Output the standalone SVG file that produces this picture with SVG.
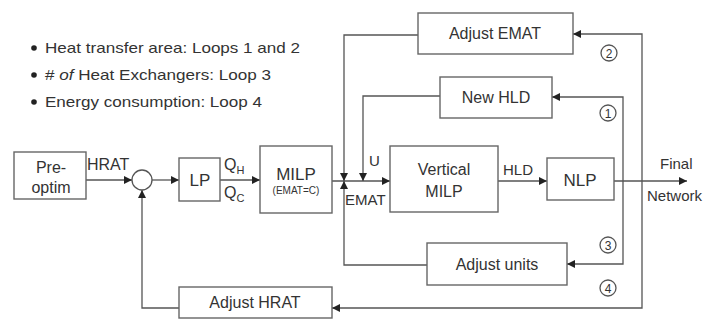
<svg xmlns="http://www.w3.org/2000/svg" width="707" height="320" viewBox="0 0 707 320">
<defs>
<style>
.box{fill:#fff;stroke:#666;stroke-width:1.4}
.ln{fill:none;stroke:#555;stroke-width:1.3}
.t{font-family:"Liberation Sans",Arial,sans-serif;fill:#333;font-size:16px;text-anchor:middle}
.l{font-family:"Liberation Sans",Arial,sans-serif;fill:#333;font-size:15px}
.g{font-family:"Liberation Sans",Arial,sans-serif;fill:#333;font-size:15px}
.n{font-family:"Liberation Sans",Arial,sans-serif;fill:#333;font-size:12px;text-anchor:middle}
.c{fill:#fff;stroke:#555;stroke-width:1.3}
</style>
<marker id="ah" viewBox="0 0 10 10" refX="10" refY="5" markerWidth="8" markerHeight="8" orient="auto" markerUnits="userSpaceOnUse">
<path d="M0,0 L10,5 L0,10 z" fill="#222"/>
</marker>
</defs>
<rect width="707" height="320" fill="#fff"/>

<g id="legend">
<circle cx="34" cy="48" r="2.8" fill="#222"/>
<text class="g" x="45" y="53" textLength="255" lengthAdjust="spacingAndGlyphs">Heat transfer area: Loops 1 and 2</text>
<circle cx="34" cy="75" r="2.8" fill="#222"/>
<text class="g" x="45" y="80" textLength="226" lengthAdjust="spacingAndGlyphs"><tspan>#</tspan><tspan style="font-style:italic"> of</tspan><tspan> Heat Exchangers: Loop 3</tspan></text>
<circle cx="34" cy="102" r="2.8" fill="#222"/>
<text class="g" x="45" y="107" textLength="217" lengthAdjust="spacingAndGlyphs">Energy consumption: Loop 4</text>
</g>

<g id="connectors">
<line class="ln" x1="86" y1="180" x2="132" y2="180" marker-end="url(#ah)"/>
<line class="ln" x1="152" y1="180" x2="179" y2="180" marker-end="url(#ah)"/>
<line class="ln" x1="220" y1="180" x2="260" y2="180" marker-end="url(#ah)"/>
<line class="ln" x1="332" y1="181" x2="390" y2="181" marker-end="url(#ah)"/>
<line class="ln" x1="498" y1="181" x2="547" y2="181" marker-end="url(#ah)"/>
<line class="ln" x1="614" y1="181" x2="687" y2="181" marker-end="url(#ah)"/>
<polyline class="ln" points="623,181 623,97 552,97" marker-end="url(#ah)"/>
<polyline class="ln" points="440,96 363,96 363,181" marker-end="url(#ah)"/>
<polyline class="ln" points="642,181 642,34 573,34" marker-end="url(#ah)"/>
<polyline class="ln" points="418,35 344,35 344,181" marker-end="url(#ah)"/>
<polyline class="ln" points="623,181 623,264 567,264" marker-end="url(#ah)"/>
<polyline class="ln" points="427,265 344,265 344,181" marker-end="url(#ah)"/>
<polyline class="ln" points="642,181 642,308 332,308" marker-end="url(#ah)"/>
<polyline class="ln" points="179,308 142,308 142,190" marker-end="url(#ah)"/>
</g>

<g id="labels">
<text class="l" x="87" y="170" style="font-size:16px">HRAT</text>
<text class="l" x="224" y="170" style="font-size:16px">Q<tspan style="font-size:11px" dy="4">H</tspan></text>
<text class="l" x="224" y="198" style="font-size:16px">Q<tspan style="font-size:11px" dy="4">C</tspan></text>
<text class="l" x="369" y="166">U</text>
<text class="l" x="345" y="205">EMAT</text>
<text class="l" x="503" y="175">HLD</text>
<text class="l" x="660" y="169">Final</text>
<text class="l" x="647" y="201">Network</text>
</g>

<g id="sum"><circle class="c" cx="142" cy="180" r="10"/></g>

<g id="preoptim">
<rect class="box" x="14" y="152" width="72" height="47"/>
<text class="t" x="51" y="173">Pre-</text>
<text class="t" x="51" y="193">optim</text>
</g>
<g id="lp">
<rect class="box" x="179" y="158" width="41" height="43"/>
<text class="t" x="200" y="186" style="font-size:17px">LP</text>
</g>
<g id="milp">
<rect class="box" x="260" y="146" width="72" height="67"/>
<text class="t" x="296" y="180" style="font-size:17px">MILP</text>
<text class="t" x="296" y="194" style="font-size:10px">(EMAT=C)</text>
</g>
<g id="vmilp">
<rect class="box" x="390" y="146" width="108" height="66"/>
<text class="t" x="444" y="175">Vertical</text>
<text class="t" x="444" y="197">MILP</text>
</g>
<g id="nlp">
<rect class="box" x="547" y="158" width="67" height="42"/>
<text class="t" x="580" y="186" style="font-size:17px">NLP</text>
</g>
<g id="adjemat">
<rect class="box" x="418" y="13" width="155" height="41"/>
<text class="t" x="495" y="39">Adjust EMAT</text>
</g>
<g id="newhld">
<rect class="box" x="440" y="77" width="112" height="41"/>
<text class="t" x="496" y="103">New HLD</text>
</g>
<g id="adjunits">
<rect class="box" x="427" y="243" width="140" height="42"/>
<text class="t" x="497" y="270">Adjust units</text>
</g>
<g id="adjhrat">
<rect class="box" x="179" y="287" width="153" height="31"/>
<text class="t" x="255" y="308">Adjust HRAT</text>
</g>

<g id="loopnums">
<circle class="c" cx="608" cy="113" r="8"/><text class="n" x="608" y="117.5">1</text>
<circle class="c" cx="609" cy="53" r="8"/><text class="n" x="609" y="57.5">2</text>
<circle class="c" cx="608" cy="245" r="8"/><text class="n" x="608" y="249.5">3</text>
<circle class="c" cx="608" cy="288" r="8"/><text class="n" x="608" y="292.5">4</text>
</g>
</svg>
